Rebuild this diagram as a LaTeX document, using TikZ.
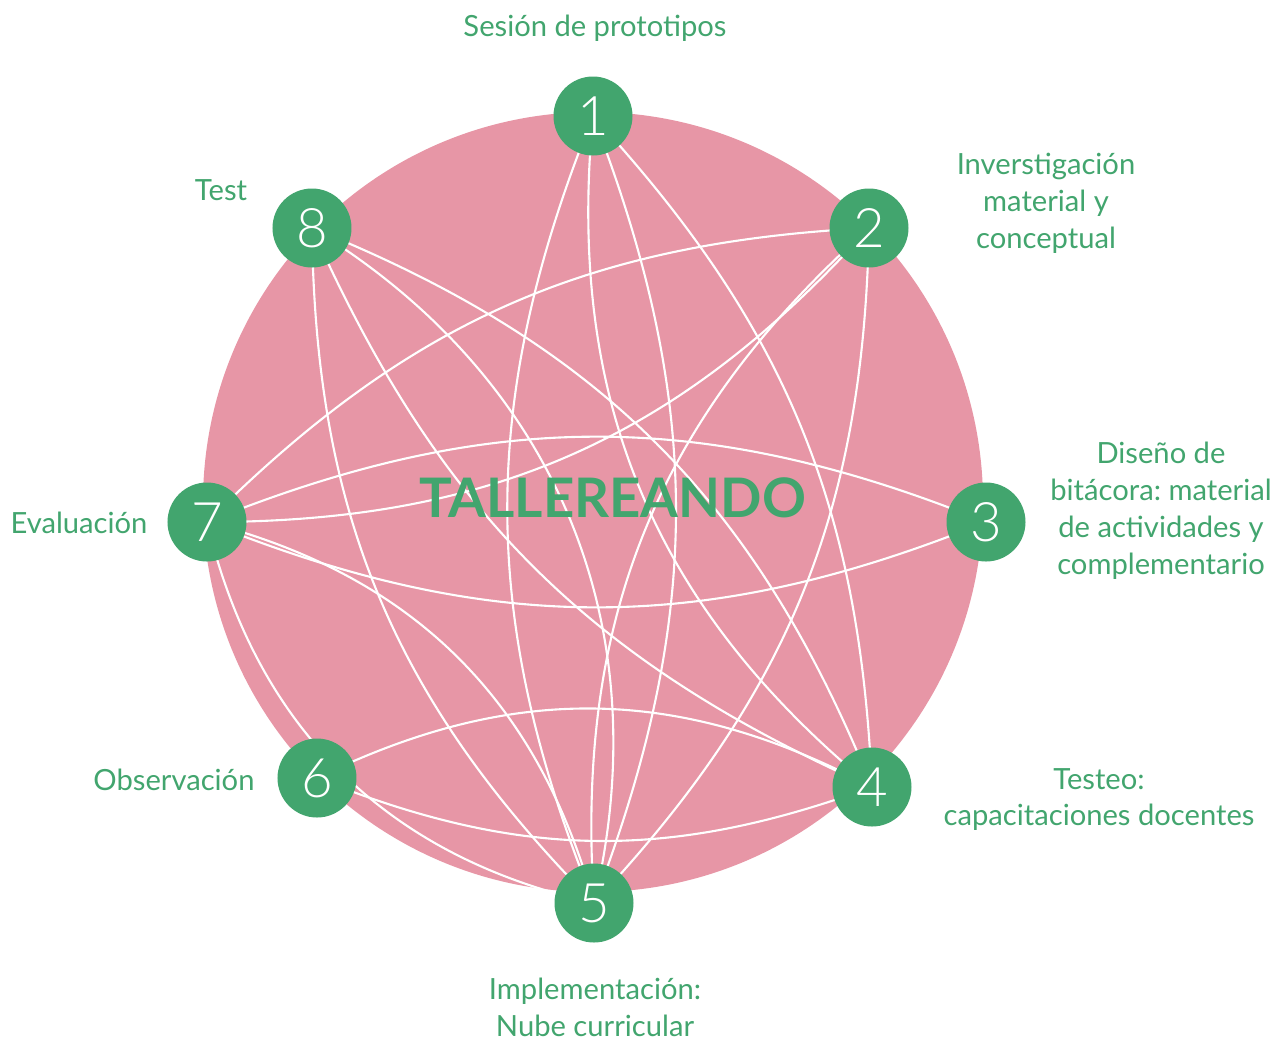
\documentclass[tikz,border=0pt]{standalone}
\usepackage{fontspec}
\setmainfont{Lato}
\newfontfamily\digitfont{Lato Light}
\usetikzlibrary{backgrounds}

\definecolor{tallergreen}{RGB}{66,165,110}
\definecolor{tallerpink}{RGB}{231,150,166}

\tikzset{
  stage/.style={circle, fill=tallergreen, text=white, minimum size=7.9mm,
    inner sep=0pt, font=\digitfont\fontsize{15.5}{15.5}\selectfont},
  stagetext/.style={text=tallergreen, align=center,
    font=\frenchspacing\fontsize{8.3}{10.5}\selectfont},
  title/.style={text=tallergreen, font=\fontsize{15.5}{15.5}\selectfont\bfseries},
  link/.style={draw=white, line width=0.6pt}
}

\begin{document}
\begin{tikzpicture}
    \useasboundingbox (-5.93,-5.39) rectangle (6.78,5.02);

    % stages
    \node[stage] (n1) at (0,3.86)      {1};
    \node[stage] (n2) at (2.76,2.74)   {2};
    \node[stage] (n3) at (3.93,-0.20)  {3};
    \node[stage] (n4) at (2.79,-2.85)  {4};
    \node[stage] (n5) at (0.01,-4.01)  {5};
    \node[stage] (n6) at (-2.76,-2.76) {6};
    \node[stage] (n7) at (-3.86,-0.20) {7};
    \node[stage] (n8) at (-2.81,2.74)  {8};

    % texts
    \node[stagetext] (t1) at (0.02,4.74)   {Sesión de prototipos};
    \node[stagetext] (t2) at (4.53,2.99)   {Inverstigación\\material y\\conceptual};
    \node[stagetext] (t3) at (5.68,-0.09)  {Diseño de\\bitácora: material\\de actividades y\\complementario};
    \node[stagetext] (t4) at (5.06,-2.975) {Testeo:\\capacitaciones docentes};
    \node[stagetext] (t5) at (0.02,-5.05)  {Implementación:\\Nube curricular};
    \node[stagetext] (t6) at (-4.19,-2.78) {Observación};
    \node[stagetext] (t7) at (-5.14,-0.21) {Evaluación};
    \node[stagetext] (t8) at (-3.72,3.12)  {Test};

    \node[title] (tl) at (0.20,0.04) {TALLEREANDO};

    \begin{pgfonlayer}{background}
        \fill[tallerpink] (0,0) circle (3.9);
        \path[link]
            (n1.center) edge[bend right=22] (n5.center)
            (n1.center) edge[bend left=21]  (n5.center)
            (n1.center) edge[bend right=28] (n4.center)
            (n1.center) edge[bend left=20]  (n4.center)

            (n2.center) edge[bend right=21] (n7.center)
            (n2.center) edge[bend left=24]  (n7.center)
            (n2.center) edge[bend left=21]  (n5.center)
            (n2.center) edge[bend right=26] (n5.center)

            (n7.center) edge[bend left=22]  (n3.center)
            (n7.center) edge[bend right=22] (n3.center)
            (n7.center) edge[bend left=30]  (n5.center)
            (n7.center) edge[bend right=32] (n5.center)

            (n6.center) edge[bend left=27]  (n4.center)
            (n6.center) edge[bend right=21] (n4.center)

            (n8.center) edge[bend right=22] (n5.center)
            (n8.center) edge[bend left=36]  (n5.center)
            (n8.center) edge[bend right=21] (n4.center)
            (n8.center) edge[bend left=23]  (n4.center)
            ;
    \end{pgfonlayer}
\end{tikzpicture}
\end{document}
